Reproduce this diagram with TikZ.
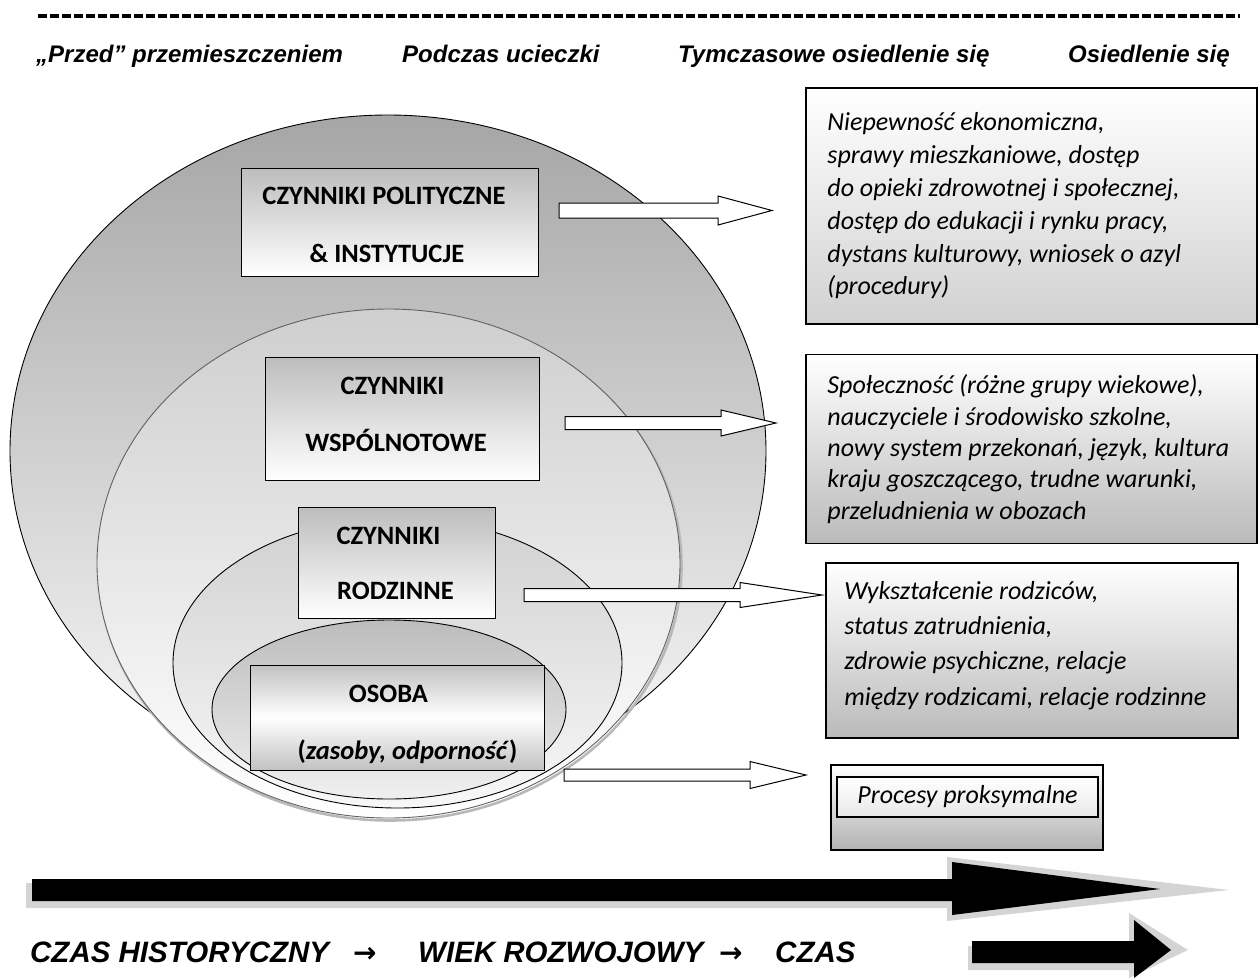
\documentclass[tikz,border=0pt]{standalone}
\usepackage{fontspec}
\setmainfont{Carlito}
\newfontfamily\arialf{Liberation Sans}
\newfontfamily\dejavuf{DejaVu Sans}
\usetikzlibrary{shapes.geometric,calc}
% #1 start, #2 end, #3 head length, #4 shaft half height, #5 head half height
\newcommand{\hollowarrow}[5]{%
  \draw[hollow] let \p1=(#1), \p2=(#2) in
    (\x1,\y1+#4) -- (\x2-#3,\y1+#4) -- (\x2-#3,\y1+#5) -- (\x2,\y1)
    -- (\x2-#3,\y1-#5) -- (\x2-#3,\y1-#4) -- (\x1,\y1-#4) -- cycle;}
\begin{document}
\begin{tikzpicture}[x=1pt,y=-1pt,
  ell/.style={ellipse, inner sep=0pt, line width=0.9pt},
  lbox/.style={draw=black, line width=0.9pt, top color=black!26, bottom color=white, inner sep=0pt},
  ltext/.style={anchor=base, inner sep=0pt, font=\bfseries\fontsize{26.5}{30}\selectfont},
  rbox/.style={draw=black, line width=1.6pt, top color=white, bottom color=black!24, inner sep=0pt},
  rtext/.style={anchor=west, inner sep=0pt, align=left},
  hollow/.style={draw=black, line width=1pt, fill=white, line join=miter},
  hdr/.style={anchor=base west, inner sep=0pt, font=\arialf\bfseries\itshape\fontsize{24}{28}\selectfont},
  btm/.style={anchor=base west, inner sep=0pt, font=\arialf\bfseries\itshape\fontsize{29.5}{34}\selectfont},
  barr/.style={anchor=base west, inner sep=0pt, font=\dejavuf\bfseries\fontsize{28}{34}\selectfont},
  headdash/.style={line width=4.5pt, dash pattern=on 9pt off 3pt}
]
\useasboundingbox (0,0) rectangle (1259,978);

% header
\coordinate (hl) at (38,16);
\coordinate (hr) at (1240,16);
\draw[headdash] (hl) -- (hr);
\node[hdr] (h1) at (36,62) {„Przed” przemieszczeniem};
\node[hdr] (h2) at (402,62) {Podczas ucieczki};
\node[hdr] (h3) at (678,62) {Tymczasowe osiedlenie się};
\node[hdr] (h4) at (1068,62) {Osiedlenie się};

% ellipses
\node[ell, draw=black, top color=black!35, bottom color=black!2,
  minimum width=756, minimum height=672] (e1) at (388,451) {};
\node[ell, draw=black!28, line width=2.6pt, minimum width=583, minimum height=509] (e2s) at (390,566) {};
\node[ell, draw=black!62, top color=black!19, bottom color=white,
  minimum width=583, minimum height=509] (e2) at (388.5,563.5) {};
\node[ell, draw=black, top color=black!18, bottom color=black!3,
  minimum width=449, minimum height=290] (e3) at (397.5,663) {};
\node[ell, draw=black, top color=black!26, bottom color=black!6,
  minimum width=354, minimum height=179] (e4) at (389,709.5) {};

% left boxes
\node[lbox, minimum width=297, minimum height=108] (pol) at (389.5,222) {};
\node[ltext] (pol1) at (384,204) {CZYNNIKI POLITYCZNE};
\node[ltext] (pol2) at (387,262) {\& INSTYTUCJE};
\node[lbox, minimum width=274, minimum height=123] (wsp) at (402,418.5) {};
\node[ltext] (wsp1) at (392.5,394) {CZYNNIKI};
\node[ltext] (wsp2) at (396,451) {WSPÓLNOTOWE};
\node[lbox, minimum width=197, minimum height=111] (rod) at (396.5,562.5) {};
\node[ltext] (rod1) at (388.5,544) {CZYNNIKI};
\node[ltext] (rod2) at (395.5,599) {RODZINNE};
\node[lbox, top color=black!24, bottom color=black!24, middle color=white,
  minimum width=294, minimum height=105] (oso) at (397,717.5) {};
\node[ltext] (oso1) at (388.5,702) {OSOBA};
\node[ltext] (oso2) at (407.5,759) {(\textit{zasoby, odporność})};

% right boxes
\node[rbox, bottom color=black!18, minimum width=451, minimum height=236] (r1) at (1031.5,206) {};
\node[rtext, font=\itshape\fontsize{26}{32.8}\selectfont] (r1t) at ($(r1.west)+(22,0)$)
  {Niepewność ekonomiczna,\\sprawy mieszkaniowe, dostęp\\do opieki zdrowotnej i społecznej,\\dostęp do edukacji i rynku pracy,\\dystans kulturowy, wniosek o azyl\\(procedury)};
\node[rbox, bottom color=black!27, minimum width=451, minimum height=189] (r2) at (1031.5,449) {};
\node[rtext, font=\itshape\fontsize{26}{31.3}\selectfont] (r2t) at ($(r2.west)+(22,0)$)
  {Społeczność (różne grupy wiekowe),\\nauczyciele i środowisko szkolne,\\nowy system przekonań, język, kultura\\kraju goszczącego, trudne warunki,\\przeludnienia w obozach};
\node[rbox, bottom color=black!27, minimum width=412, minimum height=175] (r3) at (1032,650.5) {};
\node[rtext, font=\itshape\fontsize{26}{35.3}\selectfont] (r3t) at ($(r3.west)+(19,-5)$)
  {Wykształcenie rodziców,\\status zatrudnienia,\\zdrowie psychiczne, relacje\\między rodzicami, relacje rodzinne};
\node[rbox, bottom color=black!30, minimum width=272, minimum height=85] (r4) at (967,807.5) {};
\node[draw=black, line width=1.1pt, top color=white, bottom color=black!9, inner sep=0pt,
  minimum width=261, minimum height=40, font=\itshape\fontsize{26}{30}\selectfont]
  (proc) at (967.5,797) {Procesy proksymalne};

% hollow arrows
\coordinate (a1s) at (559,210.5);  \coordinate (a1e) at (772,210.5);
\coordinate (a2s) at (565,423);    \coordinate (a2e) at (776,423);
\coordinate (a3s) at (524,595);    \coordinate (a3e) at (822,595);
\coordinate (a4s) at (564,775);    \coordinate (a4e) at (806,775);
\hollowarrow{a1s}{a1e}{54pt}{7.5pt}{14.5pt}
\hollowarrow{a2s}{a2e}{55pt}{6.5pt}{13pt}
\hollowarrow{a3s}{a3e}{82pt}{6.5pt}{12.5pt}
\hollowarrow{a4s}{a4e}{56pt}{6pt}{13.5pt}

% big time arrows
\fill[black!17] (26,883) -- (947,883) -- (947,857) -- (1229,890) -- (947,921) -- (947,908) -- (26,908) -- cycle;
\fill[black] (32,879) -- (952,879) -- (952,862) -- (1160,889) -- (952,915) -- (952,901) -- (32,901) -- cycle;
\fill[black!17] (968,946) -- (1129,946) -- (1129,913) -- (1188,950) -- (1129,978) -- (1129,970) -- (968,970) -- cycle;
\fill[black] (972,941) -- (1134,941) -- (1134,920) -- (1171,950) -- (1134,978) -- (1134,963) -- (972,963) -- cycle;

% bottom text
\node[btm] (t1) at (30,962) {CZAS HISTORYCZNY};
\node[barr] (ar1) at (353,962) {→};
\node[btm] (t2) at (418,962) {WIEK ROZWOJOWY};
\node[barr] (ar2) at (719,962) {→};
\node[btm] (t3) at (775,962) {CZAS};
\end{tikzpicture}
\end{document}
